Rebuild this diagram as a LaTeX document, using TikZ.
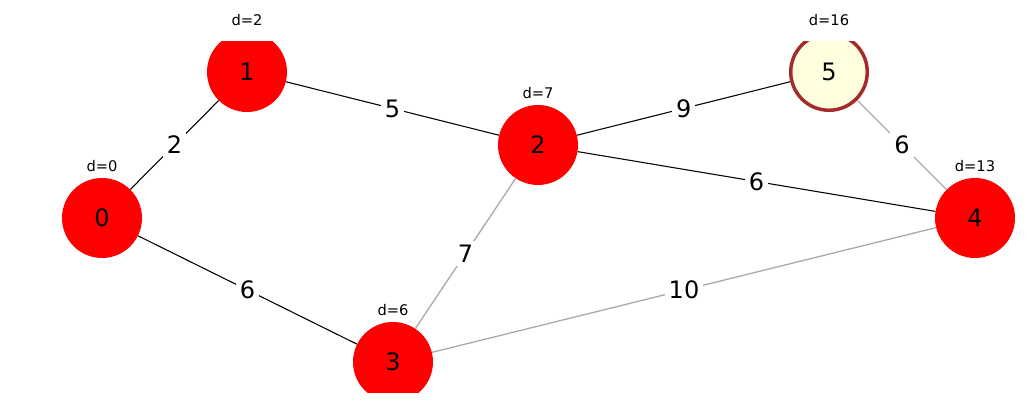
\documentclass[tikz,border=0pt]{standalone}
\usepackage{fontspec}
\setmainfont{DejaVu Sans}
\definecolor{lightyel}{HTML}{FFFFE0}
\definecolor{brownb}{HTML}{A52A2A}
\definecolor{grayedge}{HTML}{AAAAAA}
\begin{document}
\begin{tikzpicture}[x=0.75pt,y=-0.75pt,
  vert/.style={circle,fill=red,minimum size=60pt,inner sep=0pt,font=\fontsize{18}{21}\selectfont},
  vertcur/.style={circle,fill=lightyel,draw=brownb,line width=2.6pt,minimum size=57.4pt,inner sep=0pt,font=\fontsize{18}{21}\selectfont},
  tree/.style={draw=black,line width=0.8pt},
  other/.style={draw=grayedge,line width=1pt},
  elab/.style={fill=white,inner sep=3pt,font=\fontsize{18}{21}\selectfont},
  dlab/.style={font=\fontsize{11}{13}\selectfont,inner sep=0pt}]
\path[use as bounding box] (0,0) rectangle (1028,416);
\begin{scope}
\clip (0,42) rectangle (1028,393);
\node[vert] (n0) at (102,218) {0};
\node[vert] (n1) at (247,72) {1};
\node[vert] (n2) at (538,145) {2};
\node[vert] (n3) at (393,362) {3};
\node[vert] (n4) at (975,218) {4};
\node[vertcur] (n5) at (829,72) {5};
\path[tree] (n0) -- node[elab] {2} (n1);
\path[tree] (n1) -- node[elab] {5} (n2);
\path[tree] (n2) -- node[elab] {9} (n5);
\path[tree] (n2) -- node[elab] {6} (n4);
\path[tree] (n0) -- node[elab] {6} (n3);
\path[other] (n5) -- node[elab] {6} (n4);
\path[other] (n2) -- node[elab] {7} (n3);
\path[other] (n3) -- node[elab] {10} (n4);
\end{scope}
\node[dlab] (d0) at ([yshift=39pt]n0.center) {d=0};
\node[dlab] (d1) at ([yshift=39pt]n1.center) {d=2};
\node[dlab] (d2) at ([yshift=39pt]n2.center) {d=7};
\node[dlab] (d3) at ([yshift=39pt]n3.center) {d=6};
\node[dlab] (d4) at ([yshift=39pt]n4.center) {d=13};
\node[dlab] (d5) at ([yshift=39pt]n5.center) {d=16};
\end{tikzpicture}
\end{document}
